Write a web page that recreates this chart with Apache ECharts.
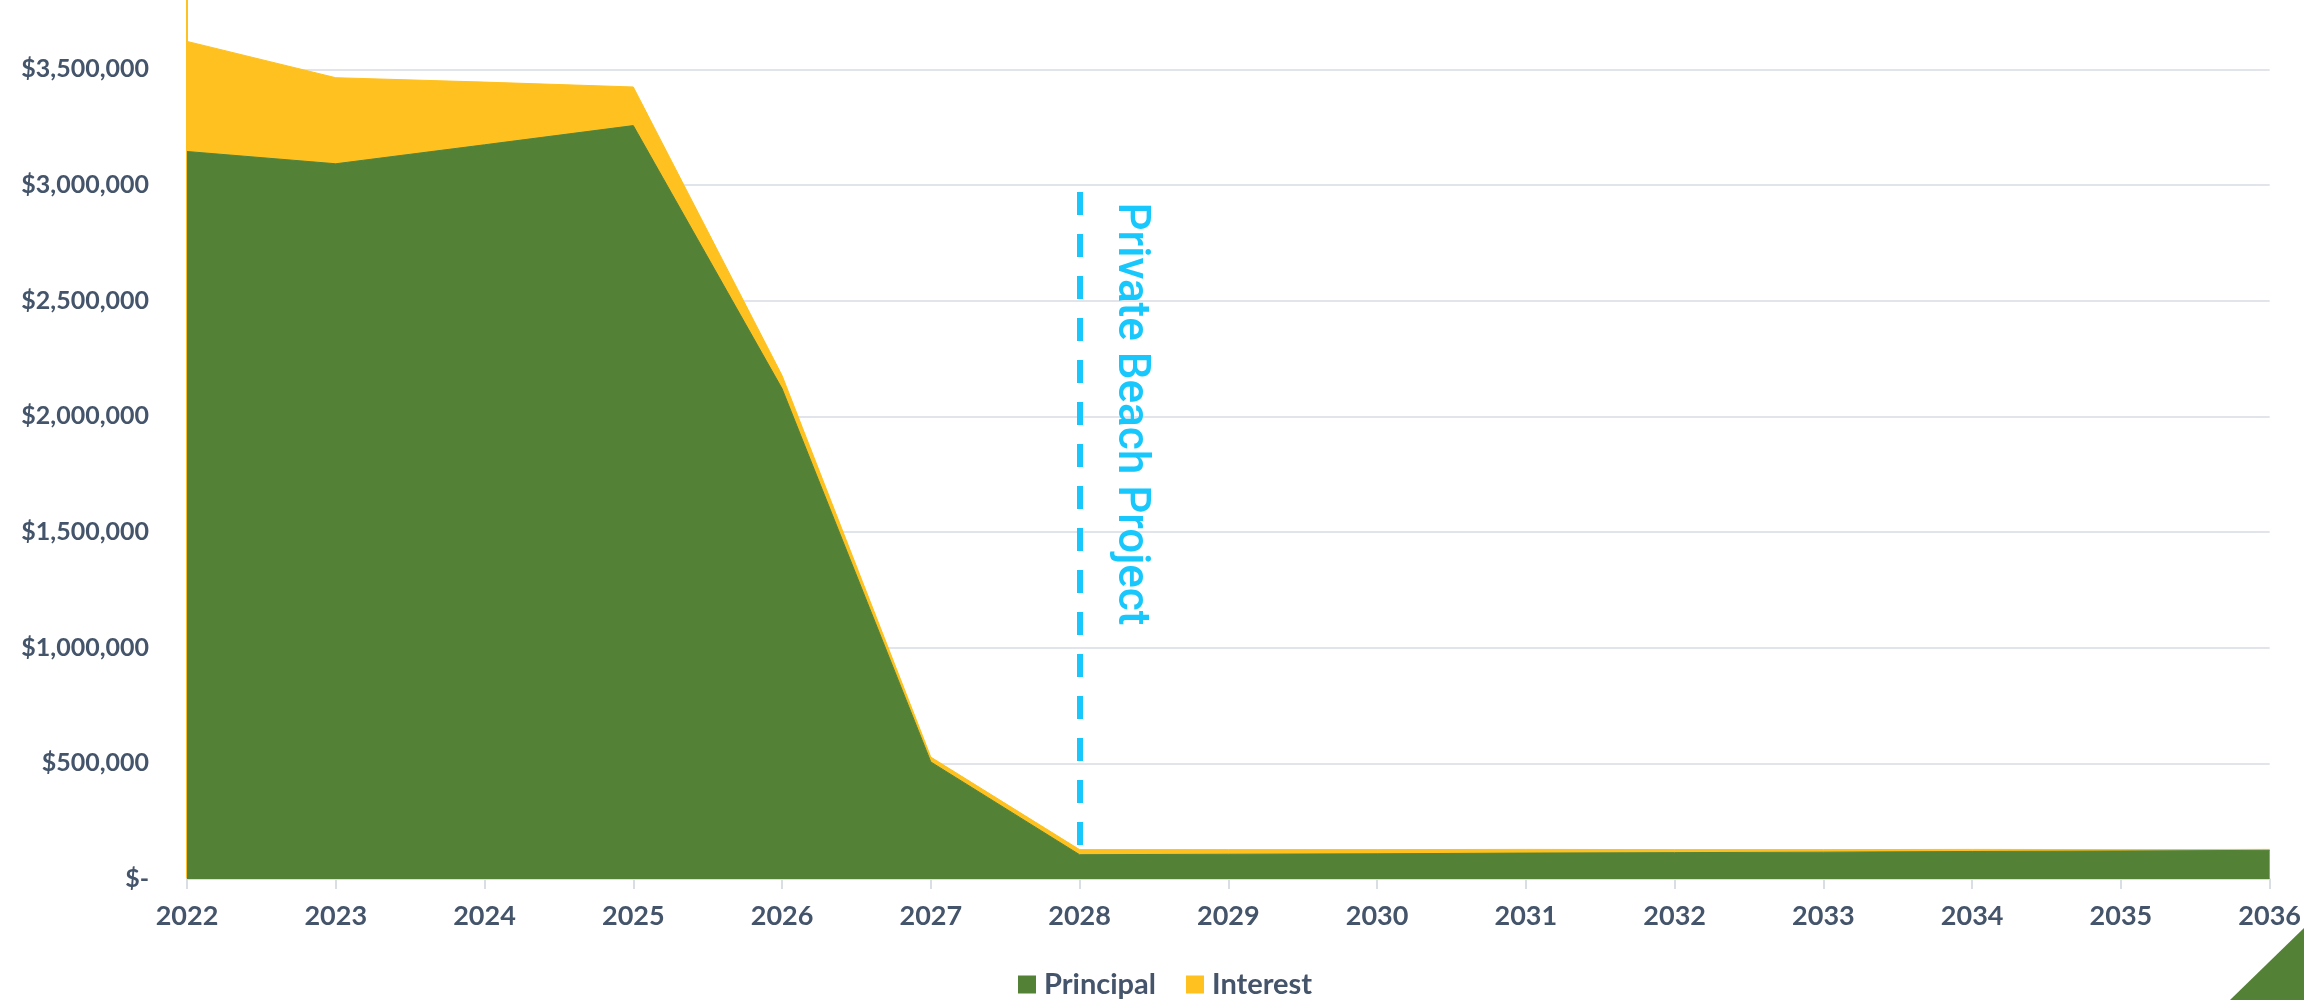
<!DOCTYPE html>
<html>
<head>
<meta charset="utf-8">
<script src="https://cdn.jsdelivr.net/npm/echarts@6/dist/echarts.min.js"></script>
<style>
html,body{margin:0;padding:0;background:#fff;}
#chart{width:2304px;height:1000px;}
</style>
</head>
<body>
<div id="chart"></div>
<script>
const years = ['2022','2023','2024','2025','2026','2027','2028','2029','2030','2031','2032','2033','2034','2035','2036'];
const principal = [3145000, 3092000, 3174000, 3257000, 2120000, 506000, 105000, 107000, 109000, 112000, 114000, 116000, 119000, 121000, 124000];
const interest = [476000, 372000, 271000, 167000, 57000, 21000, 22000, 20000, 18000, 16000, 13000, 11000, 9000, 6000, 4000];
const seriesNames = ['Principal', 'Interest'];
const markerYear = '2028';
const markerRange = [2970000, 128000];
const markerText = 'Private Beach Project';

const GREEN = '#538135';
const GOLD = '#FEC11F';
const TXT = '#44546A';
const CYAN = '#18C8FC';

function money(v){
  if (v === 0) return '$-';
  if (v % 500000 !== 0) return '';
  return '$' + v.toLocaleString('en-US');
}

const chart = echarts.init(document.getElementById('chart'));
chart.setOption({
  animation: false,
  backgroundColor: '#ffffff',
  textStyle: { fontFamily: 'Lato' },
  grid: { left: 187, right: 34, top: 0, bottom: 121 },
  legend: {
    data: seriesNames,
    left: 1013,
    top: 965,
    itemWidth: 18,
    itemHeight: 18,
    itemGap: 30,
    icon: 'rect',
    textStyle: { color: TXT, fontSize: 29, fontWeight: 'bold', fontFamily: 'Lato', padding: [0,0,0,3] }
  },
  xAxis: {
    type: 'category',
    data: years,
    boundaryGap: false,
    axisLine: { show: true, lineStyle: { color: '#D9DEE5', width: 2 } },
    axisTick: { show: true, length: 10, lineStyle: { color: '#D9DEE5', width: 2 } },
    axisLabel: { color: TXT, fontSize: 27, fontWeight: 'bold', fontFamily: 'Lato', margin: 24 },
    splitLine: { show: false }
  },
  yAxis: {
    type: 'value',
    min: 0,
    max: 3800000,
    interval: 500000,
    axisLine: { show: true, lineStyle: { color: GOLD, width: 2 } },
    axisTick: { show: false },
    axisLabel: { color: TXT, fontSize: 25, fontWeight: 'bold', fontFamily: 'Lato', margin: 38, formatter: money, showMaxLabel: false },
    splitLine: { show: true, showMaxLine: false, lineStyle: { color: '#E1E5EB', width: 2 } }
  },
  series: [
    {
      name: seriesNames[0],
      type: 'line',
      stack: 'total',
      data: principal,
      showSymbol: false,
      symbol: 'none',
      itemStyle: { color: GREEN },
      lineStyle: { color: GREEN, width: 1 },
      areaStyle: { color: GREEN, opacity: 1 },
      z: 2,
      markLine: {
        silent: true,
        symbol: ['none', 'none'],
        lineStyle: { color: CYAN, width: 6, type: [23, 19] },
        label: { show: false },
        data: [[ { coord: [markerYear, markerRange[0]] }, { coord: [markerYear, markerRange[1]] } ]],
        z: 10
      }
    },
    {
      name: seriesNames[1],
      type: 'line',
      stack: 'total',
      data: interest,
      showSymbol: false,
      symbol: 'none',
      itemStyle: { color: GOLD },
      lineStyle: { color: GOLD, width: 1 },
      areaStyle: { color: GOLD, opacity: 1 },
      z: 1
    }
  ],
  graphic: [
    {
      type: 'text',
      x: 1130,
      y: 414,
      rotation: -Math.PI / 2,
      style: {
        text: markerText,
        fill: CYAN,
        font: '500 44px Roboto',
        textAlign: 'center',
        textVerticalAlign: 'middle'
      },
      z: 20
    },
    {
      type: 'polygon',
      shape: { points: [[2304, 928], [2304, 1000], [2230, 1000]] },
      style: { fill: GREEN },
      z: 20
    }
  ]
});
</script>
</body>
</html>
